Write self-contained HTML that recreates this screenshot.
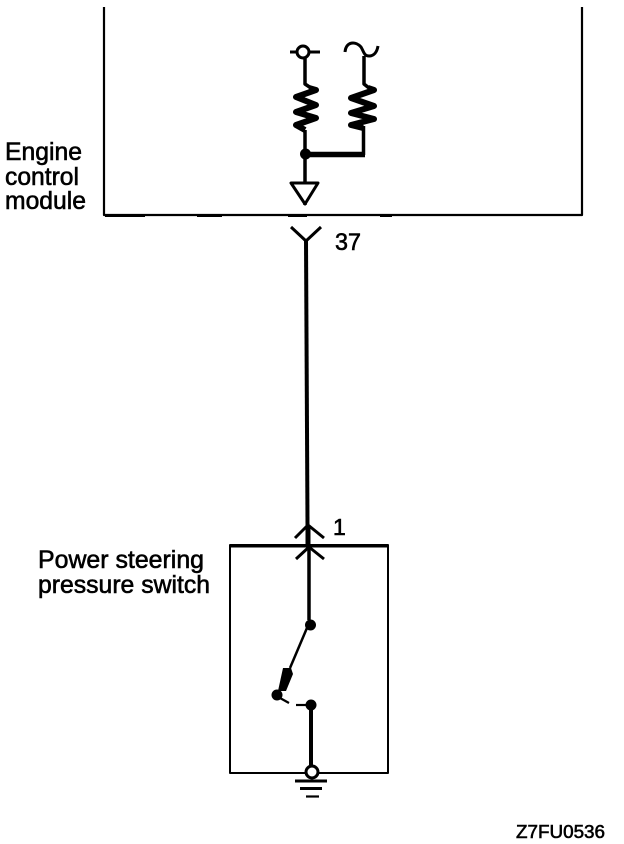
<!DOCTYPE html>
<html>
<head>
<meta charset="utf-8">
<style>
html,body{margin:0;padding:0;background:#fff;width:624px;height:844px;overflow:hidden}
svg{display:block}
text{font-family:"Liberation Sans",sans-serif;fill:#000;stroke:#000;stroke-width:.6}
</style>
</head>
<body>
<svg width="624" height="844" viewBox="0 0 624 844" xmlns="http://www.w3.org/2000/svg">
<g fill="none" stroke="#000" stroke-linejoin="round">
  <!-- ECM box -->
  <path d="M104 7V215H582V7" stroke-width="2.200"/>
  <path d="M105 215.500H145M197 215.500H222M288 215.500H307M380 215.500H392" stroke-width="3"/>
  <!-- supply symbol left -->
  <path d="M290 52H320" stroke-width="3"/>
  <circle cx="303" cy="52" r="6" fill="#fff" stroke-width="3"/>
  <path d="M305 58V84L311 88" stroke-width="3.500"/>
  <!-- resistor left -->
  <path d="M309 88L316 90L296 97L316 105L296 112L316 118L296 125L305 130" stroke-width="6"/>
  <path d="M305 130V205" stroke-width="3.500"/>
  <!-- tilde right -->
  <path d="M345 52C346 41 356 41 361 47C364 52 364 56 369 56C374 56 377 52 378 46" stroke-width="3"/>
  <path d="M364 56V84L369 88" stroke-width="3.500"/>
  <!-- resistor right -->
  <path d="M368 88L374 90L351 98L374 106L351 113L374 119L351 125L363 128" stroke-width="6"/>
  <path d="M363.500 126V155" stroke-width="3.500"/>
  <path d="M305 154.500H365" stroke-width="5.500"/>
  <!-- triangle -->
  <path d="M291 183H318L305 204Z" fill="#fff" stroke-width="3"/>
  <!-- connector 37 -->
  <path d="M291 227L306 241L321 227" stroke-width="3"/>
  <path d="M306 240L307.500 525" stroke-width="4"/>
  <!-- switch box -->
  <rect x="230" y="545" width="158" height="228" stroke-width="2"/>
  <path d="M230 546H388" stroke-width="3"/>
  <!-- connector 1 -->
  <path d="M295 538L308 525L324 538" stroke-width="3"/>
  <path d="M296 559L309 547L324 559" stroke-width="3"/>
  <path d="M308 525V546" stroke-width="5"/>
  <path d="M309 546V620" stroke-width="3.500"/>
  <!-- switch -->
  <path d="M309.500 622L290 668" stroke-width="2.500"/>
  <path d="M280 698L289 703" stroke-width="2.200"/>
  <path d="M296 705H311" stroke-width="2.200"/>
  <path d="M311 705V765" stroke-width="4"/>
  <!-- ground -->
  <circle cx="312" cy="772" r="6" fill="#fff" stroke-width="3"/>
  <path d="M295 781H327" stroke-width="3"/>
  <path d="M300 788.500H322" stroke-width="3"/>
  <path d="M306 796.500H319" stroke-width="2.200"/>
</g>
<g fill="#000" stroke="none">
  <path d="M283 668L291 668L293 674L286 691L278 691Z"/>
  <circle cx="305.500" cy="154" r="5.500"/>
  <circle cx="310.500" cy="625" r="5.500"/>
  <circle cx="277" cy="695" r="5.500"/>
  <circle cx="311" cy="705" r="5.500"/>
</g>
<text x="5" y="160" font-size="25" textLength="77" lengthAdjust="spacingAndGlyphs">Engine</text>
<text x="5" y="185" font-size="25" textLength="74" lengthAdjust="spacingAndGlyphs">control</text>
<text x="5" y="209" font-size="25" textLength="81" lengthAdjust="spacingAndGlyphs">module</text>
<text x="335" y="250" font-size="24" textLength="26" lengthAdjust="spacingAndGlyphs">37</text>
<text x="333" y="535" font-size="23">1</text>
<text x="38" y="568" font-size="25" textLength="166" lengthAdjust="spacingAndGlyphs">Power steering</text>
<text x="38" y="593" font-size="25" textLength="172" lengthAdjust="spacingAndGlyphs">pressure switch</text>
<text x="516" y="838" font-size="18.500" textLength="89" lengthAdjust="spacingAndGlyphs">Z7FU0536</text>
</svg>
</body>
</html>
